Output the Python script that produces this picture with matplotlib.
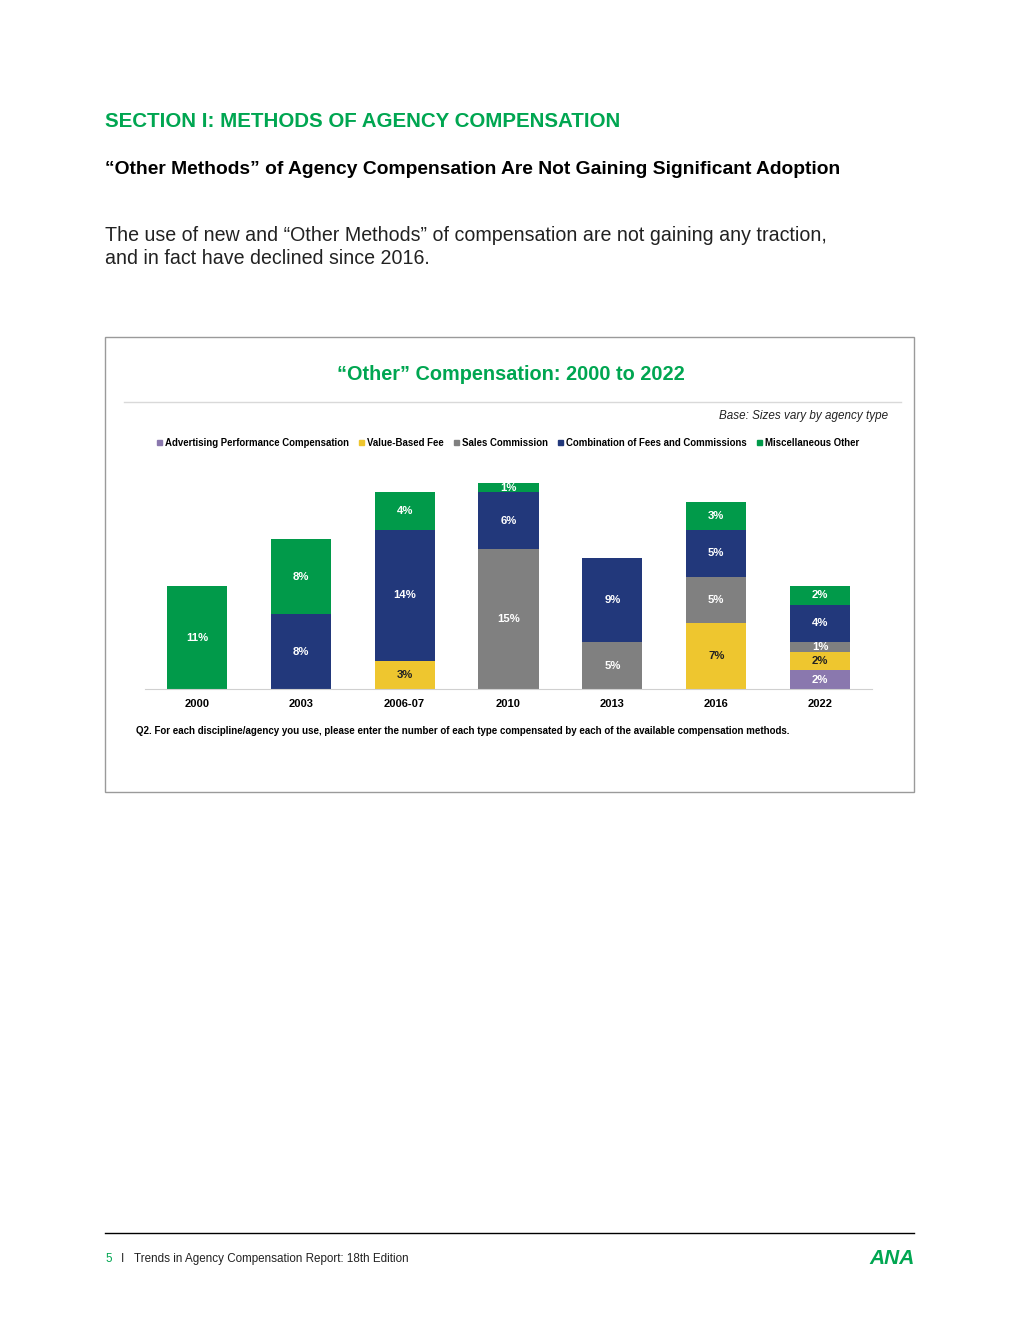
import matplotlib.pyplot as plt
from matplotlib.patches import Rectangle, Patch
from matplotlib.lines import Line2D

# data (percent)
categorias = ['2000', '2003', '2006-07', '2010', '2013', '2016', '2022']
series = ['Advertising Performance Compensation', 'Value-Based Fee', 'Sales Commission',
          'Combination of Fees and Commissions', 'Miscellaneous Other']
adv_perf = [0, 0, 0, 0, 0, 0, 2]
value_fee = [0, 0, 3, 0, 0, 7, 2]
sales_comm = [0, 0, 0, 15, 5, 5, 1]
combo_fees = [0, 8, 14, 6, 9, 5, 4]
misc_other = [11, 8, 4, 1, 0, 3, 2]

cores = ['#8a78ae', '#eec62f', '#808080', '#22387b', '#019a4a']
cor_texto = ['white', '#222222', 'white', 'white', 'white']
verde = '#00a651'

narrow = ['Liberation Sans', 'DejaVu Sans']
W, H = 1020, 1320

fig = plt.figure(figsize=(W / 100, H / 100), dpi=100)
fig.patch.set_facecolor('white')


def fx(px):
    return px / W


def fy(py):
    return 1 - py / H


# cabecalho da pagina
fig.text(fx(105), fy(127), 'SECTION I: METHODS OF AGENCY COMPENSATION', color=verde,
         fontsize=14.8, fontweight='bold', family=narrow, va='baseline', ha='left')
fig.text(fx(105), fy(174), '“Other Methods” of Agency Compensation Are Not Gaining Significant Adoption',
         color='black', fontsize=13.9, fontweight='bold', family=narrow, va='baseline', ha='left')
fig.text(fx(105), fy(241), 'The use of new and “Other Methods” of compensation are not gaining any traction,',
         color='#222222', fontsize=14.1, family=narrow, va='baseline', ha='left')
fig.text(fx(105), fy(264), 'and in fact have declined since 2016.',
         color='#222222', fontsize=14.1, family=narrow, va='baseline', ha='left')

# caixa do grafico
fig.patches.append(Rectangle((fx(105), fy(792)), fx(914) - fx(105), fy(337) - fy(792),
                             transform=fig.transFigure, fill=False, edgecolor='#9a9a9a', linewidth=1))
fig.text(fx(511), fy(380), '“Other” Compensation: 2000 to 2022', color=verde,
         fontsize=14.3, fontweight='bold', family=narrow, va='baseline', ha='center')
fig.lines.append(Line2D([fx(124), fx(901)], [fy(402), fy(402)], transform=fig.transFigure,
                        color='#d9d9d9', linewidth=1))
fig.text(fx(888), fy(416), 'Base: Sizes vary by agency type', color='#222222', fontsize=8.4,
         style='italic', family=narrow, va='center', ha='right')

# grafico de barras empilhadas
px_por_pct = 9.36
ax = fig.add_axes([fx(145), fy(689), fx(872) - fx(145), 23 * px_por_pct / H])
x = list(range(len(categorias)))
valores = [adv_perf, value_fee, sales_comm, combo_fees, misc_other]
base = [0] * len(categorias)
for serie, vals, cor, ct in zip(series, valores, cores, cor_texto):
    ax.bar(x, vals, bottom=base, width=0.58, color=cor, label=serie)
    for i, v in enumerate(vals):
        if v > 0:
            ax.text(i, base[i] + v / 2, f'{v}%', ha='center', va='center', color=ct,
                    fontsize=8.2, fontweight='bold', family=narrow)
    base = [b + v for b, v in zip(base, vals)]

ax.set_xlim(-0.5, 6.5)
ax.set_ylim(0, 23)
ax.set_yticks([])
ax.set_xticks(x)
ax.set_xticklabels(categorias, fontsize=8, fontweight='bold', family=narrow)
ax.tick_params(axis='x', length=0, pad=7)
for lado in ['top', 'right', 'left']:
    ax.spines[lado].set_visible(False)
ax.spines['bottom'].set_color('#d0d0d0')
ax.patch.set_alpha(0)

handles = [Patch(color=c, label=s) for c, s in zip(cores, series)]
fig.legend(handles=handles, loc='center', bbox_to_anchor=(fx(508), fy(443)), ncol=5,
           frameon=False, handlelength=0.55, handleheight=0.55, handletextpad=0.3,
           columnspacing=1.05, prop={'family': narrow, 'weight': 'bold', 'size': 6.9})

fig.text(fx(136), fy(731), 'Q2. For each discipline/agency you use, please enter the number of each type '
         'compensated by each of the available compensation methods.', color='black',
         fontsize=7.0, fontweight='bold', family=narrow, va='center', ha='left')

# rodape
fig.lines.append(Line2D([fx(105), fx(914)], [fy(1233), fy(1233)], transform=fig.transFigure,
                        color='black', linewidth=1))
fig.text(fx(105), fy(1259), '5', color=verde, fontsize=8.4, family=narrow, va='center', ha='left')
fig.text(fx(121), fy(1259), 'I', color='#222222', fontsize=8.4, family=narrow, va='center', ha='left')
fig.text(fx(134), fy(1259), 'Trends in Agency Compensation Report: 18th Edition', color='#222222',
         fontsize=8.4, family=narrow, va='center', ha='left')
fig.text(fx(915), fy(1259), 'ANA', color=verde, fontsize=15, fontweight='bold', style='italic',
         family=narrow, va='center', ha='right')

fig.savefig('out.png', dpi=100)
